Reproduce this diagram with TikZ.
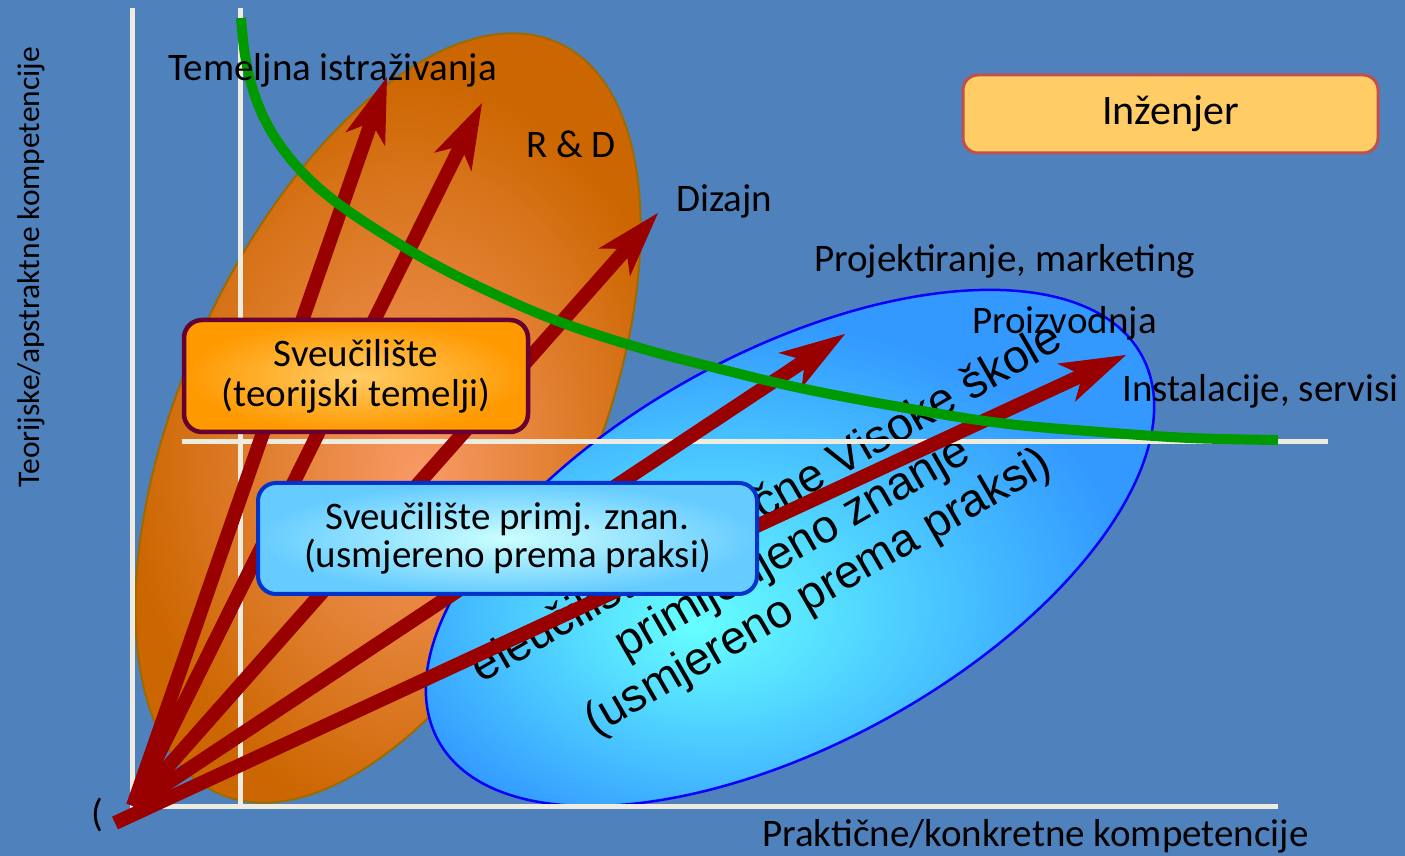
\documentclass[tikz,border=0pt]{standalone}
\usepackage{fontspec}
\setmainfont{Carlito}
\newfontfamily\arialf{Liberation Sans}
\usetikzlibrary{arrows.meta}
\definecolor{bgblue}{HTML}{4F81BD}
\definecolor{axiswhite}{HTML}{EEECE1}
\definecolor{arrowred}{HTML}{990000}
\definecolor{curvegreen}{HTML}{009900}
\definecolor{orcenter}{HTML}{F89A66}
\definecolor{oredge}{HTML}{CC6600}
\definecolor{orline}{HTML}{9C6B00}
\definecolor{blcenter}{HTML}{66FFFF}
\definecolor{bledge}{HTML}{3399FF}
\definecolor{blline}{HTML}{0000FF}
\definecolor{boxorin}{HTML}{FFCC66}
\definecolor{boxorout}{HTML}{FF9900}
\definecolor{boxorline}{HTML}{660033}
\definecolor{boxblin}{HTML}{CCFFFF}
\definecolor{boxblout}{HTML}{66CCFF}
\definecolor{boxblline}{HTML}{0033CC}
\definecolor{engfill}{HTML}{FFCC66}
\definecolor{engline}{HTML}{C0504D}
\pgfdeclareradialshading{orangeell}{\pgfpoint{3bp}{-4bp}}{color(0bp)=(orcenter); color(25bp)=(oredge); color(50bp)=(oredge)}
\pgfdeclareradialshading{blueell}{\pgfpoint{-6bp}{-7bp}}{color(0bp)=(blcenter); color(24bp)=(bledge); color(50bp)=(bledge)}
\pgfdeclareradialshading{orbox}{\pgfpoint{0bp}{0bp}}{color(0bp)=(boxorin); color(25bp)=(boxorout); color(50bp)=(boxorout)}
\pgfdeclareradialshading{blbox}{\pgfpoint{0bp}{0bp}}{color(0bp)=(boxblin); color(25bp)=(boxblout); color(50bp)=(boxblout)}
\tikzset{
  lbl/.style={font=\fontsize{39}{41}\selectfont, inner sep=0pt, anchor=base west},
  axisline/.style={draw=axiswhite, line width=5pt},
  redarrow/.style={draw=arrowred, line width=14pt,
    -{Stealth[length=66pt,width=42pt,inset=18pt,line width=1pt,fill=arrowred]}},
  orbx/.style={shade, shading=orbox, draw=boxorline, line width=4.5pt, rounded corners=18pt,
    minimum width=344pt, minimum height=112pt, align=center, inner sep=0pt,
    font=\fontsize{39}{40}\selectfont},
  blbx/.style={shade, shading=blbox, draw=boxblline, line width=4pt, rounded corners=18pt,
    minimum width=499pt, minimum height=111pt, align=center, inner sep=0pt,
    font=\fontsize{39}{38}\selectfont},
  engbx/.style={fill=engfill, draw=engline, line width=3pt, rounded corners=15pt,
    minimum width=415pt, minimum height=78pt, inner sep=0pt,
    font=\fontsize{42}{44}\selectfont}
}
\begin{document}
\begin{tikzpicture}[x=1pt,y=1pt]
\useasboundingbox (0,0) rectangle (1405,856);
\fill[bgblue] (0,0) rectangle (1405,856);
% orange ellipse
\shade[shading=orangeell, rotate around={65.6:(388,438)}] (388,438) ellipse [x radius=412pt, y radius=205pt];
\draw[orline, line width=2pt, rotate around={65.6:(388,438)}] (388,438) ellipse [x radius=412pt, y radius=205pt];
% blue ellipse
\shade[shading=blueell, rotate around={28.7:(790,308)}] (790,308) ellipse [x radius=401pt, y radius=196pt];
\draw[blline, line width=2.5pt, rotate around={28.7:(790,308)}] (790,308) ellipse [x radius=401pt, y radius=196pt];
% rotated text
\node[rotate=30, align=center, font=\arialf\fontsize{46.5}{51}\selectfont, inner sep=0pt] (vstext) at (793,307)
  {eleučilišta i Stručne Visoke škole\\primijenjeno znanje\\(usmjereno prema praksi)};
% axis lines
\draw[axisline] (132,848) -- (132,48);
\draw[axisline] (240,848) -- (240,49);
\draw[axisline] (130,49) -- (1278,49);
\draw[axisline] (182,414) -- (1328,414);
% arrows
\coordinate (O) at (133,50);
\coordinate (O5) at (115,33);
\coordinate (T1) at (387,779);
\coordinate (T2) at (482,753);
\coordinate (T3) at (658,643);
\coordinate (T4) at (845,522);
\coordinate (T5) at (1126,501);
\draw[redarrow] (O) -- (T1);
\draw[redarrow] (O) -- (T2);
\draw[redarrow] (O) -- (T3);
\draw[redarrow] (O) -- (T4);
\draw[redarrow] (O5) -- (T5);
% green curve
\draw[curvegreen, line width=10pt] plot[smooth, tension=0.6] coordinates {
  (241,838) (245,801) (253,766) (266,734) (285,704) (310,676) (340,651) (380,624)
  (430,594) (490,564) (560,534) (640,508) (720,487) (800,468) (900,449) (1000,433)
  (1100,424) (1190,418) (1278,416)};
% boxes
\node[orbx] (sveu) at (356,480) {Sveučilište\\(teorijski temelji)};
\node[blbx] (sveupr) at (507.5,317.5) {Sveučilište primj. znan.\\(usmjereno prema praksi)};
\node[engbx] (inz) at (1170.5,742) {Inženjer};
% labels
\node[lbl] (temeljna) at (168,775) {Temeljna istraživanja};
\node[lbl] (rd) at (526,698.5) {R \& D};
\node[lbl] (dizajn) at (676,644) {Dizajn};
\node[lbl] (proj) at (814,584.5) {Projektiranje, marketing};
\node[lbl] (proizv) at (972,522.5) {Proizvodnja};
\node[lbl] (instal) at (1122,454.5) {Instalacije, servisi};
\node[lbl] (xlab) at (762,9.5) {Praktične/konkretne kompetencije};
\node[font=\fontsize{39}{41}\selectfont, inner sep=0pt] (paren) at (97,41) {(};
\node[rotate=90, font=\fontsize{31.5}{33}\selectfont, inner sep=0pt] (ylab) at (31,589) {Teorijske/apstraktne kompetencije};
\end{tikzpicture}
\end{document}
